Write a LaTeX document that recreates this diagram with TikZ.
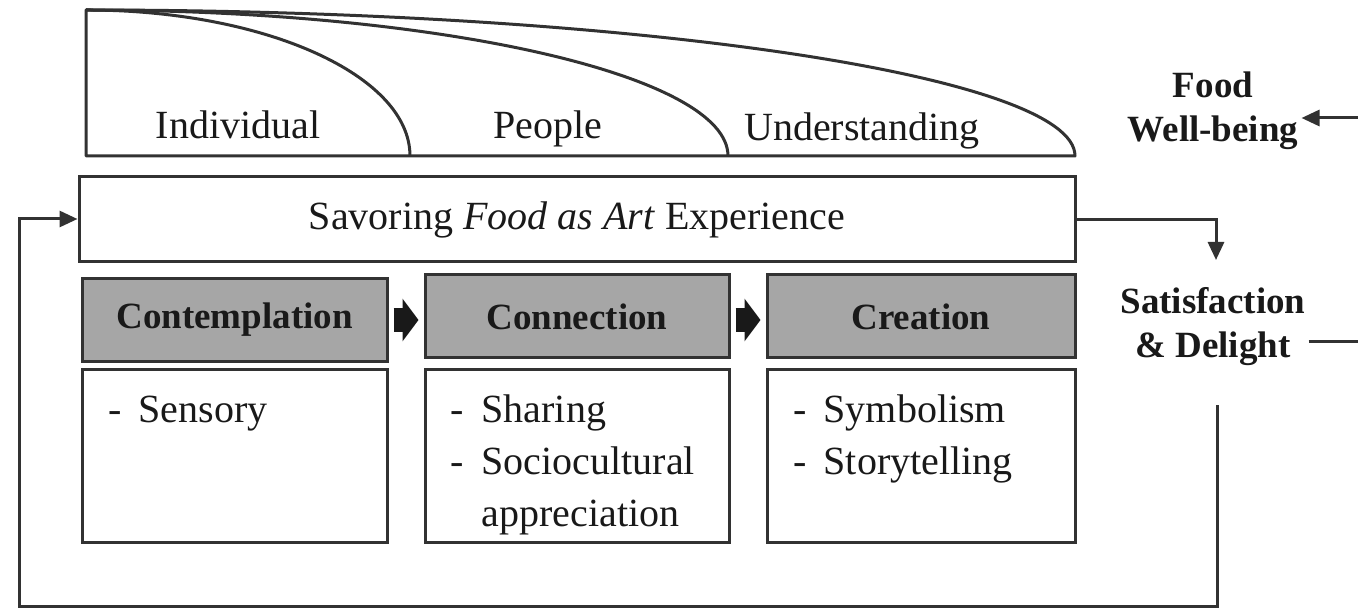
\documentclass[tikz,border=0pt]{standalone}
\usepackage{fontspec}
\setmainfont{Liberation Serif}
\usetikzlibrary{arrows.meta}
\definecolor{ln}{RGB}{50,50,50}
\definecolor{boxgray}{RGB}{166,166,166}
\definecolor{txt}{RGB}{25,25,25}
\begin{document}
\begin{tikzpicture}[x=1pt,y=-1pt,
  every node/.style={text=txt},
  big/.style={font=\fontsize{40}{52}\selectfont},
  bold/.style={font=\fontsize{37}{44}\selectfont\bfseries, align=center, inner sep=3pt},
  frame/.style={draw=ln, line width=3pt, rectangle, inner sep=0pt},
  head/.style={frame, fill=boxgray, minimum height=83pt, font=\fontsize{37}{45}\selectfont\bfseries},
  listbox/.style={frame, minimum height=172pt},
  conn/.style={draw=ln, line width=3pt},
  tip/.style={-{Triangle[length=18pt,width=16pt]}},
  blockarrow/.style={draw=black!90, line width=24pt,
    -{Triangle[length=16pt,width=42pt]}, shorten <=5pt, shorten >=5pt},
  lst/.style={big, anchor=base west, inner sep=0pt},
  toplabel/.style={big, anchor=base}
]
\useasboundingbox (0,0) rectangle (1358,612);

% top shape
\draw[conn, line join=round] (86,156) -- (86,10)
  .. controls (632.2,10) and (1075,75.4) .. (1075,156) -- cycle;
\draw[conn] (86,10) .. controls (264.9,10) and (410,75.4) .. (410,156);
\draw[conn] (86,10) .. controls (440.6,10) and (728,75.4) .. (728,156);
\node[toplabel] (individual) at (238,139) {Individual};
\node[toplabel] (people) at (548,139) {People};
\node[toplabel] (understanding) at (862,141) {Understanding};

% savoring box
\node[frame, minimum width=996pt, minimum height=85pt, big] (savor) at (577,219.5)
  {Savoring \textit{Food as Art} Experience};

% stage headers
\node[head, minimum width=305pt] (contemp) at (234.5,320) {Contemplation};
\node[head, minimum width=304pt] (connect) at (577,316.5) {Connection};
\node[head, minimum width=308pt] (create) at (921,316.5) {Creation};

% list boxes
\node[listbox, minimum width=305pt] (l1) at (234.5,456) {};
\node[listbox, minimum width=304pt] (l2) at (577,456) {};
\node[listbox, minimum width=308pt] (l3) at (921,456) {};

\node[lst] (t1) at ([xshift=28pt,yshift=-54pt]l1.north west)
  {\begin{tabular}[t]{@{}p{30pt}@{}l@{}}-& Sensory\end{tabular}};
\node[lst] (t2) at ([xshift=27pt,yshift=-54pt]l2.north west)
  {\begin{tabular}[t]{@{}p{31pt}@{}l@{}}-& Sharing\\ -& Sociocultural\\ & appreciation\end{tabular}};
\node[lst] (t3) at ([xshift=28pt,yshift=-54pt]l3.north west)
  {\begin{tabular}[t]{@{}p{30pt}@{}l@{}}-& Symbolism\\ -& Storytelling\end{tabular}};

% block arrows
\draw[blockarrow] (contemp.east |- 0,320) -- (connect.west |- 0,320);
\draw[blockarrow] (connect.east |- 0,320) -- (create.west |- 0,320);

% right side
\node[bold] (food) at (1213,111) {Food\\Well-being};
\node[bold] (sat) at (1213,327) {Satisfaction\\\& Delight};

\coordinate (foodin) at (1358,118);
\draw[conn, tip] (foodin) -- (foodin -| food.east);

\coordinate (satout) at (1358,342);
\draw[conn] (sat.east |- satout) -- (satout);

\coordinate (bend) at (1216,220);
\draw[conn, tip] (savor.east |- bend) -- (bend) -- (1216,260);

% feedback loop
\coordinate (fb0) at (1217,405);
\coordinate (fb1) at (1217,606);
\coordinate (fb2) at (19,606);
\coordinate (fb3) at (19,219);
\draw[conn, tip, line join=miter] (fb0) -- (fb1) -- (fb2) -- (fb3) -- (fb3 -| savor.west);
\end{tikzpicture}
\end{document}
